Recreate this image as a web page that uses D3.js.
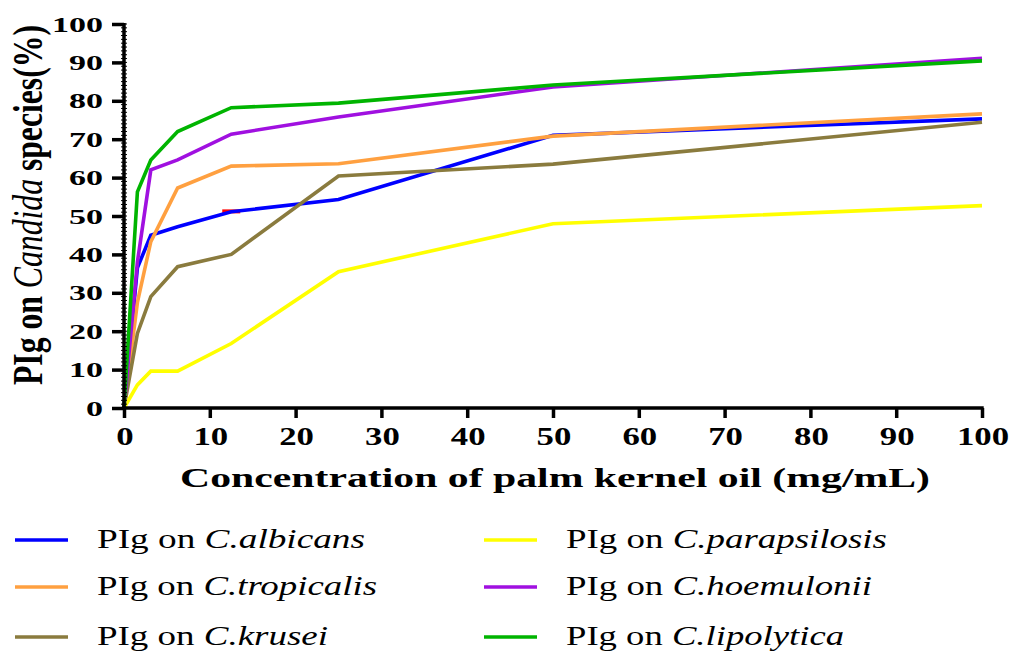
<!DOCTYPE html>
<html>
<head>
<meta charset="utf-8">
<script src="https://cdn.jsdelivr.net/npm/d3@7"></script>
<style>
  html, body { margin: 0; padding: 0; background: #fff; }
  svg { display: block; }
  text { font-family: "Liberation Serif", "Times New Roman", serif; }
</style>
</head>
<body>
<svg id="chart" width="1014" height="652"></svg>
<script>
// ---- data ----
const concentrations = [0, 1.5625, 3.125, 6.25, 12.5, 25, 50, 100];
const albicans     = [0, 36.5, 45.0, 47.2, 51.1, 54.3, 71.0, 75.3];
const tropicalis   = [0, 27.5, 43.3, 57.3, 63.0, 63.6, 70.8, 76.6];
const krusei       = [0, 19.4, 29.0, 36.8, 40.0, 60.4, 63.5, 74.4];
const parapsilosis = [0, 6.0, 9.6, 9.6, 16.8, 35.5, 48.0, 52.7];
const hoemulonii   = [0, 38.0, 62.0, 64.6, 71.3, 75.8, 83.6, 91.1];
const lipolytica   = [0, 56.3, 64.6, 72.0, 78.2, 79.4, 84.1, 90.4];
const seriesNames  = ["C.albicans", "C.tropicalis", "C.krusei", "C.parapsilosis", "C.hoemulonii", "C.lipolytica"];
const seriesColors = ["#0000ff", "#ffa040", "#8a7b3e", "#ffff00", "#a010e0", "#00b400"];
const errorBars = [{x: 12.5, y: 51.2}];
const xTickValues = [0, 10, 20, 30, 40, 50, 60, 70, 80, 90, 100];
const yTickValues = [0, 10, 20, 30, 40, 50, 60, 70, 80, 90, 100];

const seriesValues = [albicans, tropicalis, krusei, parapsilosis, hoemulonii, lipolytica];
const series = seriesNames.map((n, i) => ({
  name: n, color: seriesColors[i],
  pts: concentrations.map((c, j) => ({x: c, y: seriesValues[i][j]}))
}));

const svg = d3.select("#chart");
const x = d3.scaleLinear().domain([0, 100]).range([124, 982]);
const y = d3.scaleLinear().domain([0, 100]).range([408, 24]);

// error bar cap (drawn beneath lines)
svg.append("g").selectAll("line").data(errorBars).join("line")
  .attr("x1", d => x(d.x) - 9).attr("x2", d => x(d.x) + 9)
  .attr("y1", d => y(d.y)).attr("y2", d => y(d.y))
  .attr("stroke", "#ff0000").attr("stroke-width", 4);

// series lines
const line = d3.line().x(d => x(d.x)).y(d => y(d.y));
svg.append("g").selectAll("path").data(series).join("path")
  .attr("d", d => line(d.pts))
  .attr("fill", "none")
  .attr("stroke", d => d.color)
  .attr("stroke-width", 3.6)
  .attr("stroke-linejoin", "miter");

// y axis minor ticks
svg.append("g").selectAll("line").data(y.ticks(100)).join("line")
  .attr("x1", 121).attr("x2", 127)
  .attr("y1", d => y(d)).attr("y2", d => y(d))
  .attr("stroke", "#000").attr("stroke-width", 1);

// axes
const yAxis = svg.append("g").attr("transform", "translate(124,0)")
  .call(d3.axisLeft(y).tickValues(yTickValues).tickSize(12).tickPadding(0).tickFormat(""));
const xAxis = svg.append("g").attr("transform", "translate(0,408)")
  .call(d3.axisBottom(x).tickValues(xTickValues).tickSize(10).tickPadding(0).tickFormat(""));
[yAxis, xAxis].forEach(a => {
  a.select(".domain").attr("stroke", "#000").attr("stroke-width", 3.5);
  a.selectAll(".tick line").attr("stroke", "#000").attr("stroke-width", 3.5);
});
yAxis.select(".domain").attr("d", "M0," + (y(100) - 1) + "V" + (y(0) + 1.7));
xAxis.select(".domain").attr("d", "M" + (x(0) - 1.7) + ",0H" + (x(100) + 1.7));

// tick labels
svg.append("g").selectAll("text").data(yTickValues).join("text")
  .attr("transform", d => `translate(103,${y(d) + 7.5}) scale(1.62,1)`)
  .attr("text-anchor", "end")
  .attr("font-size", 21).attr("font-weight", "bold")
  .text(d => d);
svg.append("g").selectAll("text").data(xTickValues).join("text")
  .attr("transform", d => `translate(${x(d) + 1},445) scale(1.42,1)`)
  .attr("text-anchor", "middle")
  .attr("font-size", 24.5).attr("font-weight", "bold")
  .text(d => d);

// axis titles
svg.append("text")
  .attr("x", 555).attr("y", 487)
  .attr("text-anchor", "middle")
  .attr("font-size", 28).attr("font-weight", "bold")
  .attr("textLength", 750).attr("lengthAdjust", "spacingAndGlyphs")
  .text("Concentration of palm kernel oil (mg/mL)");

const yt = svg.append("text")
  .attr("transform", "translate(42,205) scale(1.5,1) rotate(-90)")
  .attr("text-anchor", "middle")
  .attr("font-size", 28).attr("font-weight", "bold")
  .attr("textLength", 360).attr("lengthAdjust", "spacingAndGlyphs");
yt.append("tspan").text("PIg on ");
yt.append("tspan").attr("font-style", "italic").attr("font-weight", "normal").text("Candida");
yt.append("tspan").text(" species(%)");

// legend
const legendCols = [{lx1: 15, lx2: 68, tx: 97}, {lx1: 484, lx2: 537, tx: 566}];
const legendRows = [540, 587, 637];
const legendWidths = [268, 280, 231, 321, 306, 278];
const legendItems = series.map((s, i) => ({
  s, col: Math.floor(i / 3), row: i % 3, w: legendWidths[i]
}));
const lg = svg.append("g").selectAll("g").data(legendItems).join("g");
lg.append("line")
  .attr("x1", d => legendCols[d.col].lx1).attr("x2", d => legendCols[d.col].lx2)
  .attr("y1", d => legendRows[d.row]).attr("y2", d => legendRows[d.row])
  .attr("stroke", d => d.s.color).attr("stroke-width", 3.5);
const lt = lg.append("text")
  .attr("x", d => legendCols[d.col].tx).attr("y", d => legendRows[d.row] + 7.5)
  .attr("font-size", 27)
  .attr("textLength", d => d.w).attr("lengthAdjust", "spacingAndGlyphs");
lt.append("tspan").text("PIg on ");
lt.append("tspan").attr("font-style", "italic").text(d => d.s.name);
</script>
</body>
</html>
